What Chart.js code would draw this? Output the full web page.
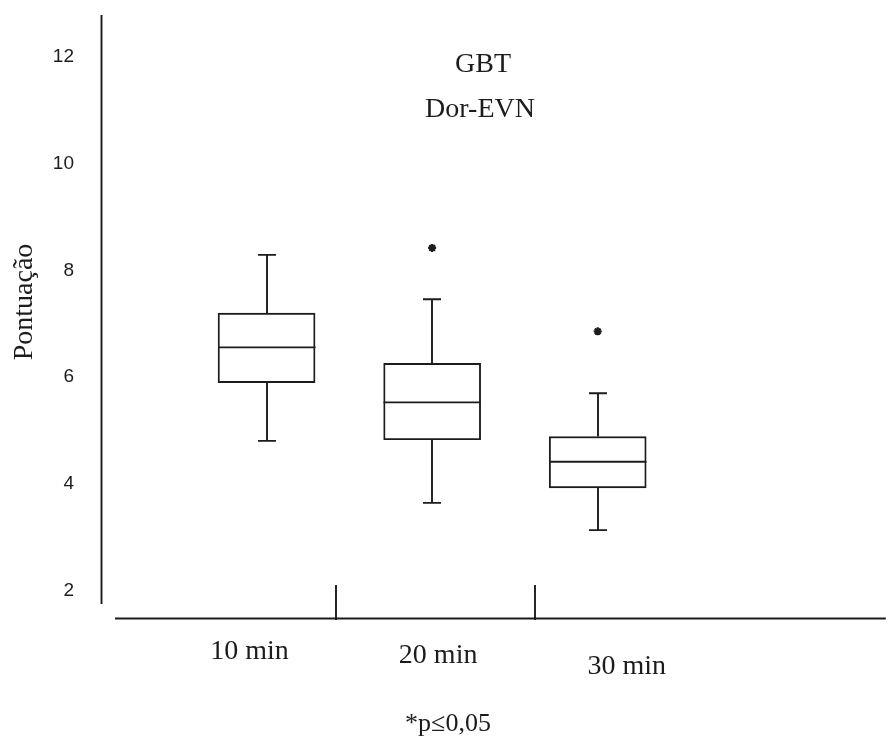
<!DOCTYPE html>
<html>
<head>
<meta charset="utf-8">
<script src="https://cdn.jsdelivr.net/npm/chart.js@4/dist/chart.umd.min.js"></script>
<style>
html,body{margin:0;padding:0;background:#fff;}
#wrap{width:892px;height:738px;}
</style>
</head>
<body>
<div id="wrap"><canvas id="c" width="892" height="738"></canvas></div>
<script>
// ---- data ----
const categories = ['10 min', '20 min', '30 min'];
const positions = [1, 2, 3];
const whiskerMin = [4.81, 3.65, 3.14];
const q1 = [5.90, 4.83, 3.93];
const median = [6.56, 5.53, 4.42];
const q3 = [7.20, 6.26, 4.89];
const whiskerMax = [8.29, 7.46, 5.70];
const outlierX = [2, 3];
const outlierY = [8.42, 6.86];
const yTicks = [2, 4, 6, 8, 10, 12];
const titleLines = ['GBT', 'Dor-EVN'];
const yTitle = 'Pontuação';
const footnote = '*p\u22640,05';

const SERIF = '"Liberation Serif", "Times New Roman", serif';
const SANS = '"Liberation Sans", Arial, sans-serif';
const INK = '#1c1c1c';
const LW = 1.9;

const boxData = positions.map((p, i) => ({ x: p, y: [q1[i], q3[i]] }));
const outData = outlierX.map((x, i) => ({ x: x, y: outlierY[i] }));

const boxPlugin = {
  id: 'boxExtras',
  afterDatasetsDraw(chart) {
    const { ctx, scales } = chart;
    const xs = scales.x, ys = scales.y;
    ctx.save();
    ctx.strokeStyle = INK;
    ctx.lineWidth = LW;
    const half = 48.5, cap = 9;
    positions.forEach((p, i) => {
      const cx = Math.round(xs.getPixelForValue(p));
      const yMin = ys.getPixelForValue(whiskerMin[i]);
      const yQ1 = ys.getPixelForValue(q1[i]);
      const yMed = ys.getPixelForValue(median[i]);
      const yQ3 = ys.getPixelForValue(q3[i]);
      const yMax = ys.getPixelForValue(whiskerMax[i]);
      ctx.beginPath();
      ctx.moveTo(cx, yQ1); ctx.lineTo(cx, yMin);
      ctx.moveTo(cx, yQ3); ctx.lineTo(cx, yMax);
      ctx.moveTo(cx - cap, yMin); ctx.lineTo(cx + cap, yMin);
      ctx.moveTo(cx - cap, yMax); ctx.lineTo(cx + cap, yMax);
      ctx.moveTo(cx - half, yMed); ctx.lineTo(cx + half, yMed);
      ctx.stroke();
    });
    ctx.restore();
  },
  afterDraw(chart) {
    const { ctx, chartArea, scales } = chart;
    const xs = scales.x;
    ctx.save();
    ctx.strokeStyle = INK;
    ctx.lineWidth = LW;
    ctx.beginPath();
    // y axis line (stops short of the x axis)
    ctx.moveTo(chartArea.left + 0.5, chartArea.top);
    ctx.lineTo(chartArea.left + 0.5, chartArea.bottom - 16);
    // x axis line
    ctx.moveTo(chartArea.left + 14, chartArea.bottom - 1.5);
    ctx.lineTo(chartArea.right, chartArea.bottom - 1.5);
    // separator ticks
    [1.42, 2.62].forEach(v => {
      const x = Math.round(xs.getPixelForValue(v));
      ctx.moveTo(x, chartArea.bottom - 35);
      ctx.lineTo(x, chartArea.bottom);
    });
    ctx.stroke();

    ctx.fillStyle = INK;
    ctx.textAlign = 'center';
    ctx.textBaseline = 'alphabetic';
    // category labels (staggered as in the original)
    ctx.font = '28px ' + SERIF;
    const shift = [-17, 6, 29];
    const drop = [39, 43, 54];
    categories.forEach((c, i) => {
      ctx.fillText(c, xs.getPixelForValue(positions[i]) + shift[i], chartArea.bottom + drop[i]);
    });
    // title inside the plot
    ctx.fillText(titleLines[0], 483, 72);
    ctx.fillText(titleLines[1], 480, 117);
    // y-axis title
    ctx.save();
    ctx.translate(32, 302);
    ctx.rotate(-Math.PI / 2);
    ctx.fillText(yTitle, 0, 0);
    ctx.restore();
    // footnote
    ctx.font = '26px ' + SERIF;
    ctx.fillText(footnote, 448, 731);
    ctx.restore();
  }
};

new Chart(document.getElementById('c'), {
  type: 'bar',
  data: {
    datasets: [
      {
        type: 'bar',
        data: boxData,
        backgroundColor: '#ffffff',
        borderColor: INK,
        borderWidth: LW,
        borderSkipped: false,
        barThickness: 97,
        grouped: false
      },
      {
        type: 'scatter',
        data: outData,
        pointStyle: 'star',
        radius: 4,
        borderWidth: 2.2,
        borderColor: INK,
        backgroundColor: INK
      }
    ]
  },
  options: {
    responsive: false,
    animation: false,
    events: [],
    layout: { padding: { left: 0, right: 0, top: 15, bottom: 118 } },
    plugins: { legend: { display: false }, tooltip: { enabled: false }, title: { display: false } },
    scales: {
      x: {
        type: 'linear',
        min: 0,
        max: 4.74,
        display: false,
        offset: false
      },
      y: {
        type: 'linear',
        min: 1.457,
        max: 12.78,
        afterFit(scale) { scale.width = 101; scale.paddingTop = 0; scale.paddingBottom = 0; },
        afterBuildTicks(scale) { scale.ticks = yTicks.map(v => ({ value: v })); },
        grid: { display: false, drawTicks: false },
        border: { display: false },
        ticks: {
          padding: 27,
          color: INK,
          font: { family: SANS, size: 19 },
          callback: v => String(v)
        }
      }
    }
  },
  plugins: [boxPlugin]
});
</script>
</body>
</html>
